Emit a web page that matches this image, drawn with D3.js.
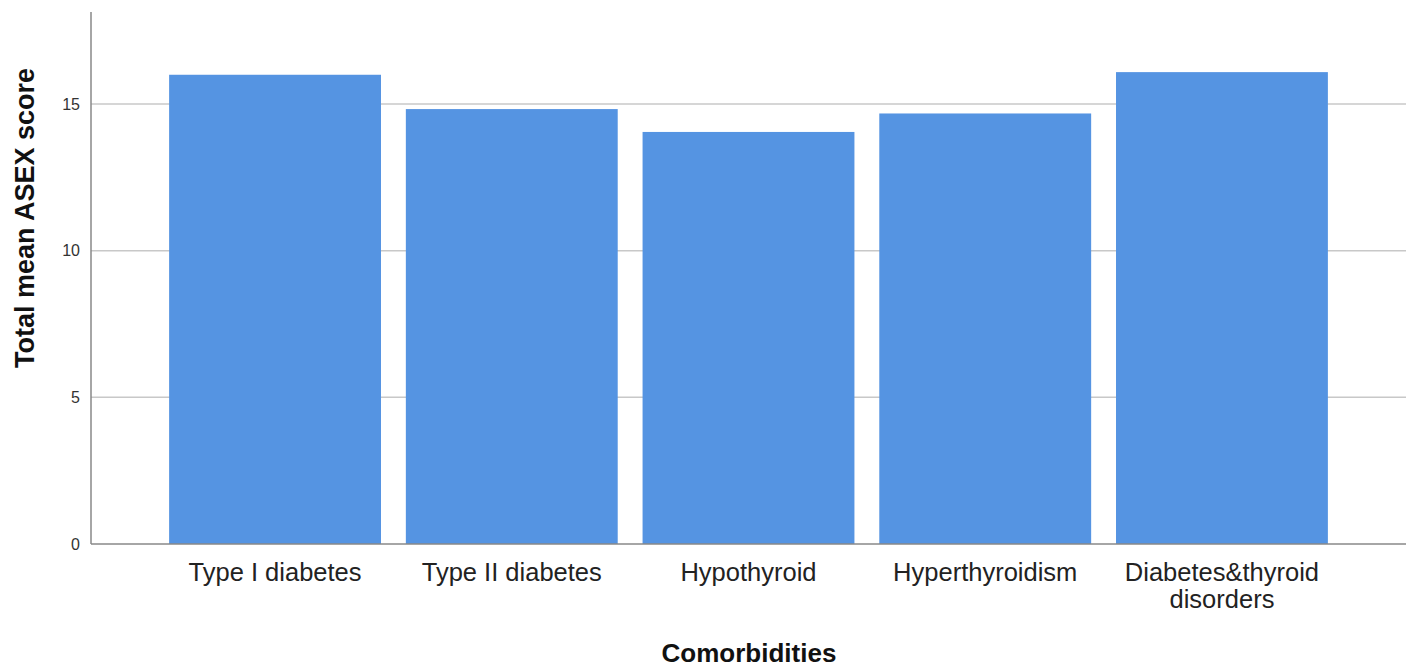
<!DOCTYPE html>
<html lang="en">
<head>
<meta charset="utf-8">
<script src="https://d3js.org/d3.v7.min.js"></script>
<style>
  body { margin: 0; background: #fff; }
</style>
</head>
<body>
<div id="chart"></div>
<script>
// data
const categories = ["Type I diabetes", "Type II diabetes", "Hypothyroid", "Hyperthyroidism", "Diabetes&thyroid disorders"];
const meanScores = [16.0, 14.83, 14.05, 14.68, 16.09];
const yTicks = [0, 5, 10, 15];

const W = 1418, H = 672;
const plotLeft = 91, plotRight = 1406, plotTop = 12, plotBottom = 544;

const svg = d3.select("#chart").append("svg")
  .attr("width", W).attr("height", H)
  .style("font-family", "Arial, 'Liberation Sans', sans-serif");

const y = d3.scaleLinear().domain([0, 18.14]).range([plotBottom, plotTop]);
const x = d3.scaleBand().domain(categories).range([plotLeft, plotRight])
  .paddingInner(0.105).paddingOuter(0.33);

// gridlines
svg.append("g")
  .selectAll("line")
  .data(yTicks.filter(d => d > 0))
  .join("line")
  .attr("x1", plotLeft).attr("x2", plotRight)
  .attr("y1", d => y(d)).attr("y2", d => y(d))
  .attr("stroke", "#c8c8c8").attr("stroke-width", 1.5);

// bars
svg.append("g")
  .selectAll("rect")
  .data(categories)
  .join("rect")
  .attr("x", d => x(d))
  .attr("width", x.bandwidth())
  .attr("y", (d, i) => y(meanScores[i]))
  .attr("height", (d, i) => plotBottom - y(meanScores[i]))
  .attr("fill", "#5594e2");

// y axis
const yAxis = svg.append("g")
  .attr("transform", `translate(${plotLeft},0)`)
  .call(d3.axisLeft(y).tickValues(yTicks).tickSize(0).tickPadding(11).tickFormat(d3.format("d")));
yAxis.select(".domain").attr("stroke", "#888").attr("stroke-width", 1.5)
  .attr("d", `M0,${plotTop}V${plotBottom}`);
yAxis.selectAll("text").attr("font-size", 16).attr("fill", "#333")
  .style("font-family", "Arial, 'Liberation Sans', sans-serif");

// x axis
const xAxis = svg.append("g")
  .attr("transform", `translate(0,${plotBottom})`)
  .call(d3.axisBottom(x).tickSize(0).tickPadding(0));
xAxis.select(".domain").attr("stroke", "#888").attr("stroke-width", 1.5)
  .attr("d", `M${plotLeft},0H${plotRight}`);
xAxis.selectAll("text").remove();

// category labels (last one wraps onto two lines)
const wrapped = { "Diabetes&thyroid disorders": ["Diabetes&thyroid", "disorders"] };
categories.forEach(c => {
  const lines = wrapped[c] || [c];
  const t = svg.append("text")
    .attr("x", x(c) + x.bandwidth() / 2)
    .attr("y", 581)
    .attr("text-anchor", "middle")
    .attr("font-size", 25.5)
    .attr("fill", "#222");
  lines.forEach((l, i) => {
    t.append("tspan").attr("x", x(c) + x.bandwidth() / 2).attr("dy", i ? 27 : 0).text(l);
  });
});

// axis titles
svg.append("text")
  .attr("x", 749).attr("y", 662)
  .attr("text-anchor", "middle")
  .attr("font-size", 26).attr("font-weight", "bold").attr("fill", "#111")
  .text("Comorbidities");

svg.append("text")
  .attr("transform", `translate(34,218) rotate(-90)`)
  .attr("text-anchor", "middle")
  .attr("font-size", 27).attr("font-weight", "bold").attr("fill", "#111")
  .text("Total mean ASEX score");
</script>
</body>
</html>
